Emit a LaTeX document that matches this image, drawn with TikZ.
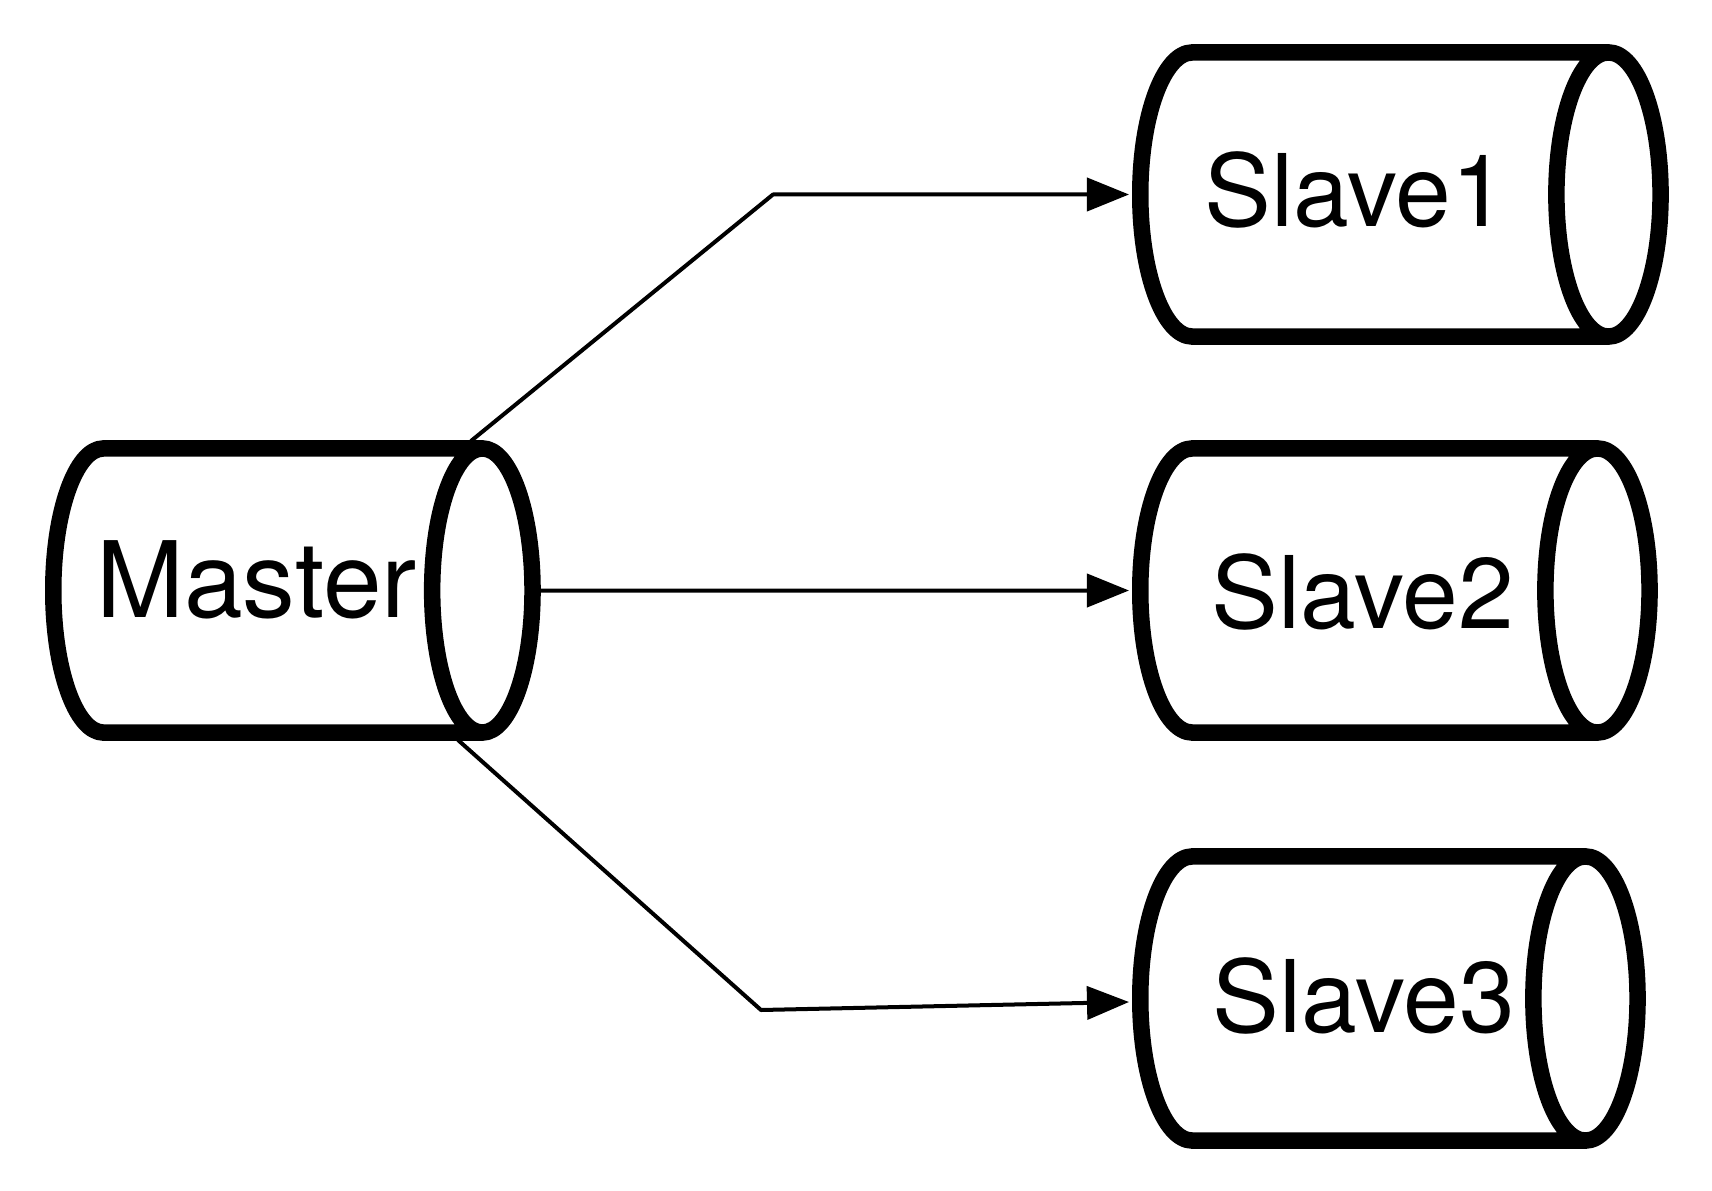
\documentclass[tikz,border=0pt]{standalone}
\usepackage{fontspec}
\setmainfont{TeX Gyre Heros}
\usetikzlibrary{shapes.geometric,arrows.meta}
\newcommand{\dbstrut}{\rule{0pt}{0.76cm}}
\tikzset{
	db/.style={cylinder,draw,line width=0.165cm,inner sep=0pt,anchor=west,
		shape aspect=1.37,minimum height=#1,minimum width=2.84cm},
	dbname/.style={inner sep=0pt,anchor=base,font=\fontsize{#1}{36}\selectfont},
	link/.style={line width=0.04cm,-{Triangle[length=0.42cm,width=0.33cm]}}
}
\begin{document}
\begin{tikzpicture}[line join=round,x=0.01cm,y=-0.01cm]
	\useasboundingbox (0,0) rectangle (1712,1191);
	\node[db=4.79cm,shape aspect=1.32] (master) at (45,590.5) {\dbstrut};
	\node[db=5.20cm] (slave1) at (1132,194.5) {\dbstrut};
	\node[db=5.09cm] (slave2) at (1132,590.5) {\dbstrut};
	\node[db=4.97cm] (slave3) at (1132,998.5) {\dbstrut};
	\node[dbname=30] (mastername) at (256.6,617) {Master};
	\node[dbname=28.5] (slave1name) at (1356,226) {Slave1};
	\node[dbname=28.5] (slave2name) at (1362.6,628) {Slave2};
	\node[dbname=28.5] (slave3name) at (1363.7,1032) {Slave3};
	\coordinate (start1) at (471,441);
	\coordinate (bend1) at (773,194.5);
	\coordinate (start3) at (458,740);
	\coordinate (bend3) at (761,1010);
	\coordinate (end3) at (1129,1002);
	\draw[link,shorten >=0.03cm] (start1)--(bend1)--(slave1.west);
	\draw[link,shorten >=0.03cm] (master.east)--(slave2.west);
	\draw[link] (start3)--(bend3)--(end3);
\end{tikzpicture}
\end{document}
